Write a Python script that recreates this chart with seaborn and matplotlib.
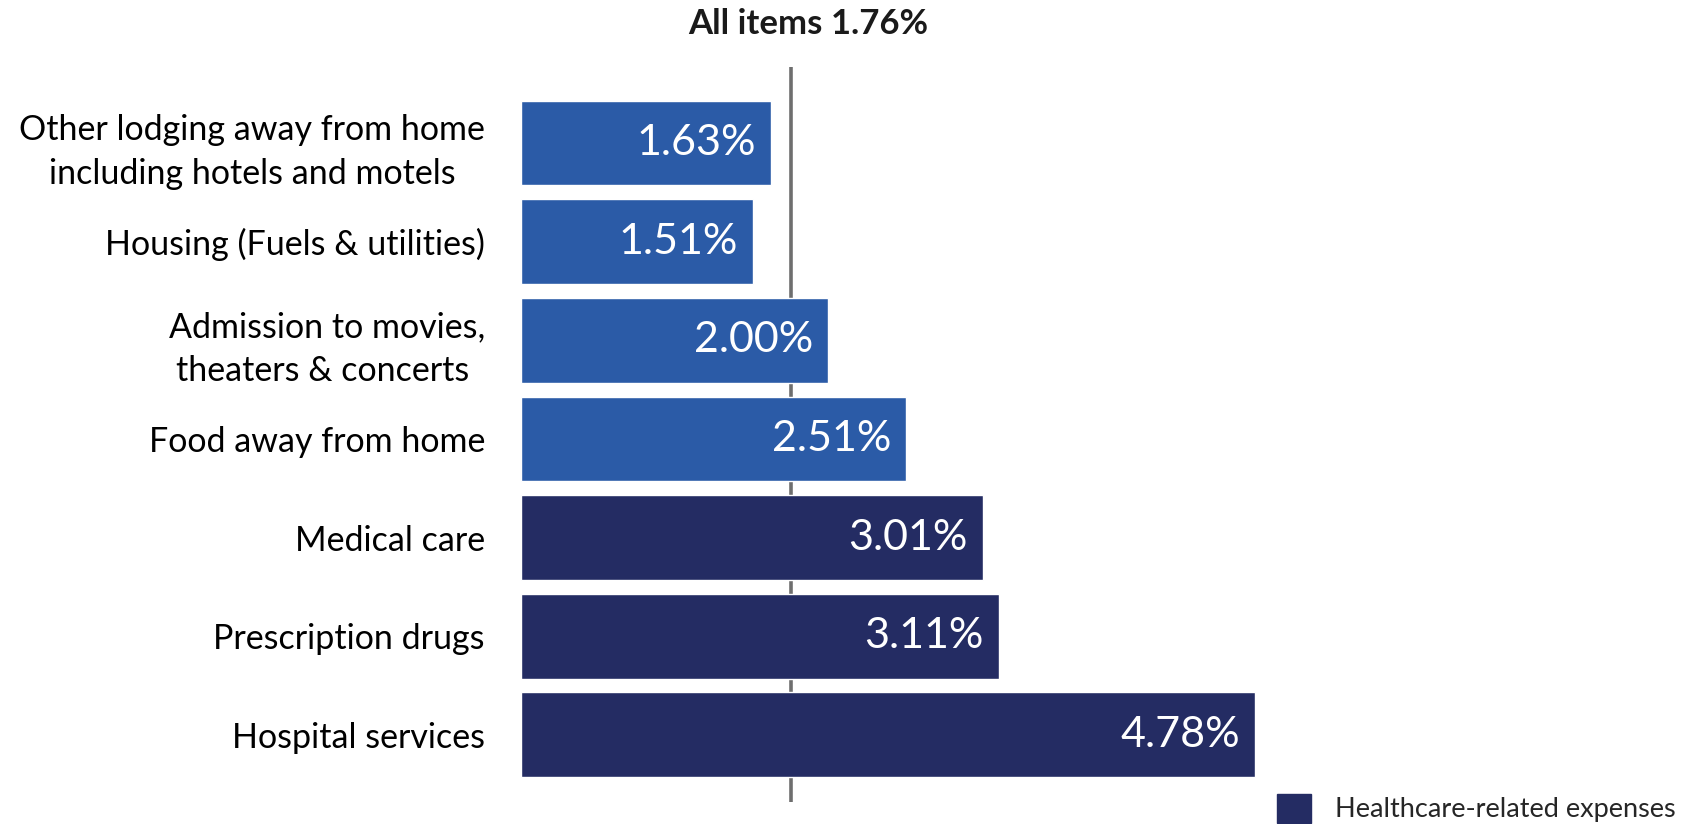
import matplotlib
matplotlib.use("Agg")
import matplotlib.pyplot as plt
import seaborn as sns
import pandas as pd
from matplotlib.patches import Patch

categories = [
    "Other lodging away from home\nincluding hotels and motels",
    "Housing (Fuels & utilities)",
    "Admission to movies,\ntheaters & concerts ",
    "Food away from home",
    "Medical care",
    "Prescription drugs",
    "Hospital services",
]
values = [1.63, 1.51, 2.00, 2.51, 3.01, 3.11, 4.78]
healthcare = [False, False, False, False, True, True, True]
all_items = 1.76
title = "All items 1.76%"
legend_label = "Healthcare-related expenses"

c_other = "#2B5BA7"
c_health = "#242C63"

sns.set_theme(style="white")
plt.rcParams['font.family'] = ['Lato', 'DejaVu Sans']

df = pd.DataFrame({"cat": categories, "val": values})
palette = {c: (c_health if h else c_other) for c, h in zip(categories, healthcare)}

W, H = 1699, 824
fig = plt.figure(figsize=(W / 100, H / 100), dpi=100)
ax = fig.add_axes([521 / W, 22 / H, 1075 / W, 735 / H])

sns.barplot(data=df, y="cat", x="val", hue="cat", palette=palette, orient="h",
            width=0.86, saturation=1, legend=False, ax=ax, order=categories)

ax.set_xlim(0, 7)
ax.set_ylim(6.68, -0.77)
ax.axvline(all_items, color="#6E6E6E", lw=2.6, zorder=0)

for i, v in enumerate(values):
    ax.text(v - 0.1, i, f"{v:.2f}%", color="white", ha="right", va="center",
            fontsize=31)

ax.set_xlabel("")
ax.set_ylabel("")
ax.set_xticks([])
ax.tick_params(axis="y", length=0, pad=26, labelsize=24.5)
for t in ax.get_yticklabels():
    t.set_multialignment("center")
    t.set_color("black")
    t.set_linespacing(1.45)
for s in ax.spines.values():
    s.set_visible(False)

fig.text(808 / W, 1 - 24 / H, title, ha="center", va="center",
         fontsize=25, fontweight="bold", color="#1a1a1a")

fig.legend(handles=[Patch(color=c_health, label=legend_label)],
           loc="lower right", bbox_to_anchor=(1677 / W, 0.0), frameon=False,
           fontsize=19.5, handlelength=1.25, handleheight=1.25,
           handletextpad=0.9, borderaxespad=0, borderpad=0.05)

fig.savefig("out.png", dpi=100)
